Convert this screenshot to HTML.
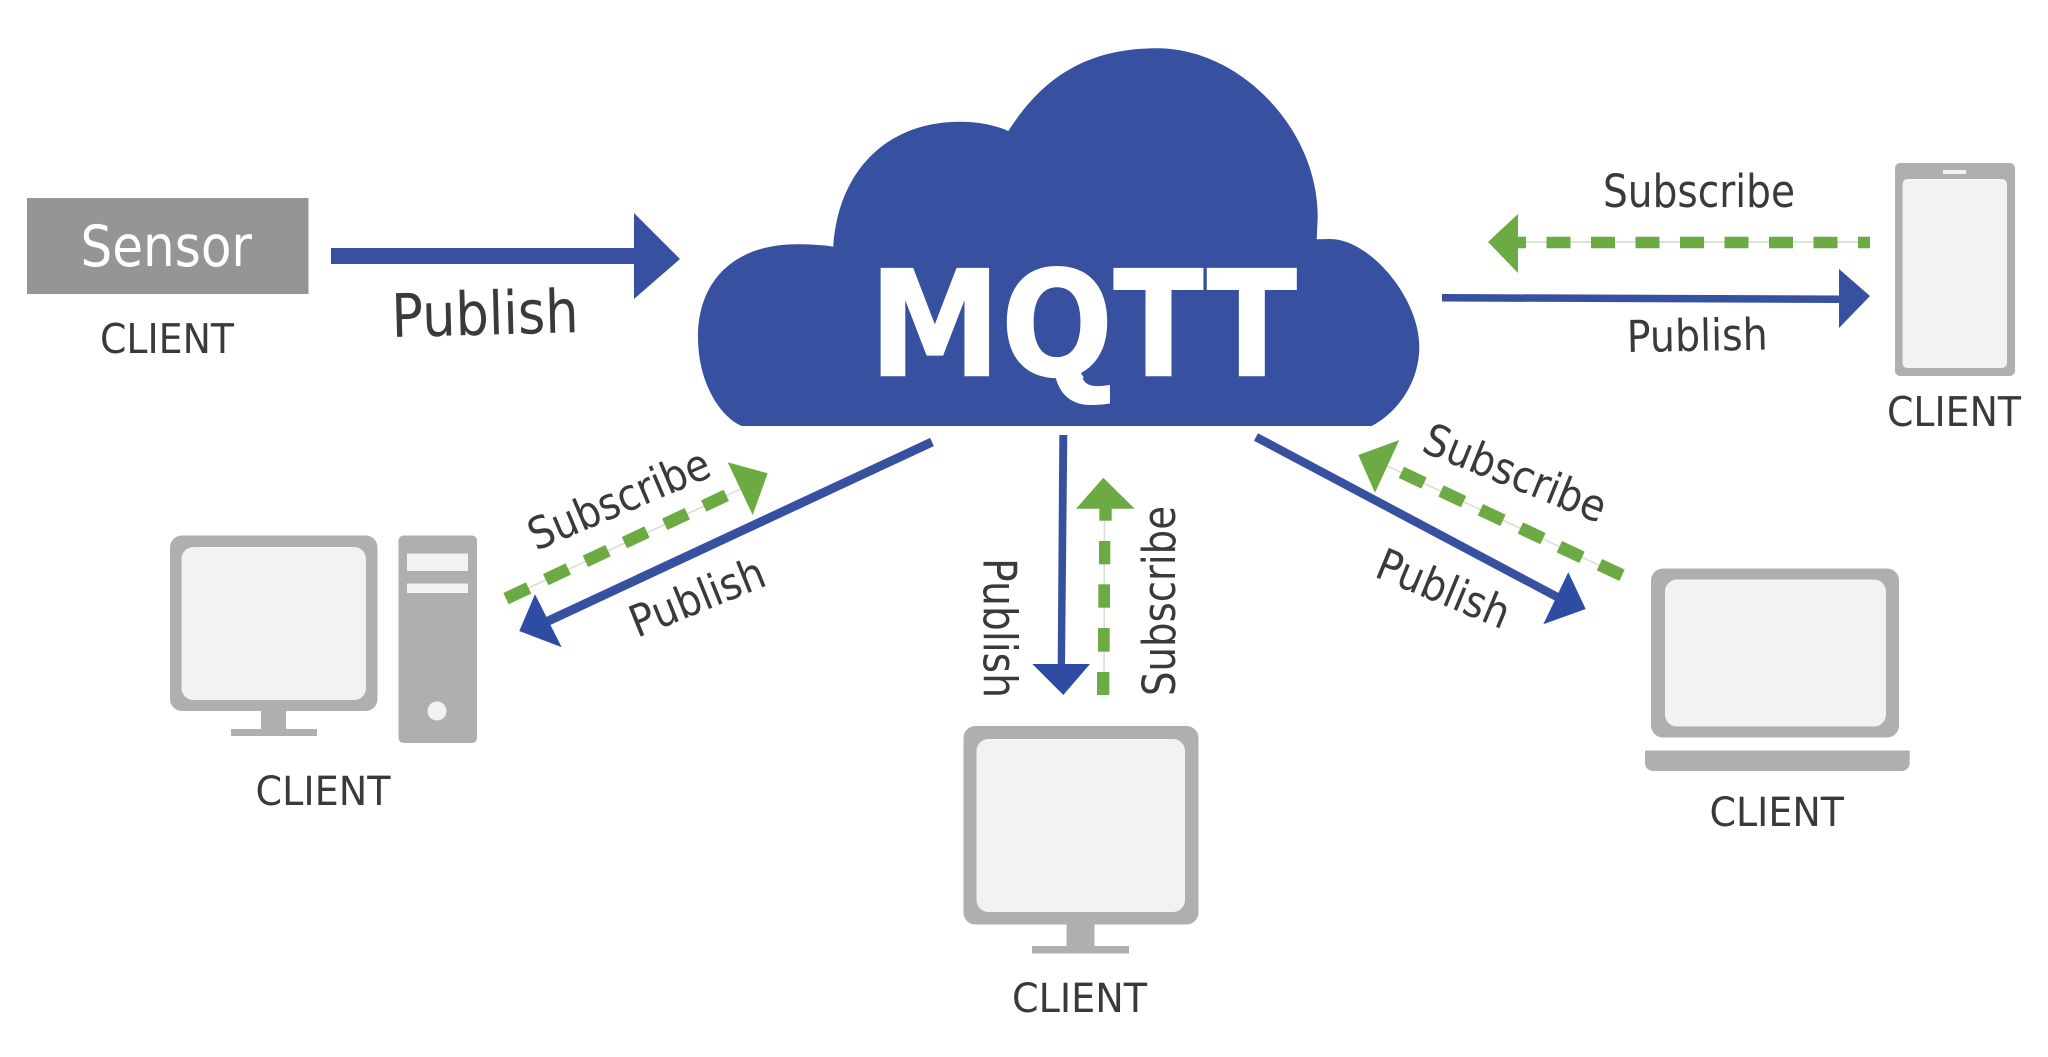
<!DOCTYPE html>
<html><head><meta charset="utf-8"><style>
html,body{margin:0;padding:0;background:#fff;width:2048px;height:1057px;overflow:hidden}
svg{display:block}
text{font-family:"DejaVu Sans",sans-serif;fill:#3a3a3a}
</style></head><body>
<svg width="2048" height="1057" viewBox="0 0 2048 1057" xmlns="http://www.w3.org/2000/svg">
<rect width="2048" height="1057" fill="#fff"/>
<!-- cloud -->
<path fill="#37509f" d="M741.700 426C722 418 698 385 698 337C698 279.500 735.500 244.300 796.700 244.300C810 244.300 822 245 833.300 246.700C838 172 886 121.700 960 121.700C978 121.700 995 125 1008.300 131C1035.800 89 1075 48.300 1156.700 48.300C1240.400 48.300 1317.700 129 1317.700 216.700L1316.700 239.300L1330 239C1370 239 1419.300 298 1419.300 346.700C1419.300 382 1398 412 1371.700 426Z"/>
<text x="869" y="375.700" font-size="147" font-weight="bold" textLength="428" lengthAdjust="spacingAndGlyphs" style="fill:#fff;stroke:#fff;stroke-width:1.200">MQTT</text>
<!-- Q tail -->
<polygon points="1125,360 1105,360 1092,370 1083,378 1040,380 1040,412 1125,412" fill="#37509f"/>
<path d="M1055 374C1058 392 1070 405 1090 405C1098 405 1104 404.500 1110 403.500L1110 385C1095 387 1083 388 1081 372Z" fill="#fff"/>
<!-- sensor -->
<rect x="27" y="198" width="281.500" height="96" fill="#959595"/>
<text x="80.500" y="266" font-size="57" textLength="171.500" lengthAdjust="spacingAndGlyphs" style="fill:#fff">Sensor</text>
<text x="100" y="353" font-size="41" textLength="134" lengthAdjust="spacingAndGlyphs">CLIENT</text>
<!-- sensor arrow -->
<rect x="331" y="248" width="304" height="16" fill="#37509f"/>
<polygon points="634,213 680,259 634,299" fill="#37509f"/>
<text transform="translate(392,337) rotate(-1.500)" font-size="60" textLength="187" lengthAdjust="spacingAndGlyphs">Publish</text>
<!-- top right arrows -->
<text x="1603" y="207" font-size="45" textLength="192" lengthAdjust="spacingAndGlyphs">Subscribe</text>
<line x1="1518" y1="242" x2="1870" y2="242" stroke="#cfdcc4" stroke-width="1.500"/>
<line x1="1870" y1="242.500" x2="1518" y2="242.500" stroke="#6cab44" stroke-width="11.500" stroke-dasharray="12 20.500 24 20.500 24 20.500 24 20.500 24 20.500 24 20.500 24 20.500 24 20.500 24"/>
<polygon points="1488,242 1518,214 1518,273" fill="#6cab44"/>
<polygon points="1442,294 1839,295.500 1839,303 1442,301.500" fill="#37509f"/>
<polygon points="1839,269 1870,296 1839,328" fill="#37509f"/>
<text transform="translate(1627,352) rotate(-1)" font-size="44" textLength="141" lengthAdjust="spacingAndGlyphs">Publish</text>
<!-- phone -->
<rect x="1895" y="163" width="120" height="213" rx="5" fill="#afafaf"/>
<rect x="1902.500" y="179" width="104.500" height="189" rx="5" fill="#f2f2f2"/>
<rect x="1943" y="170" width="23" height="4" fill="#f2f2f2"/>
<text x="1887" y="426" font-size="41" textLength="134" lengthAdjust="spacingAndGlyphs">CLIENT</text>
<!-- left diagonal -->
<line x1="932" y1="442" x2="545" y2="622.500" stroke="#37509f" stroke-width="9"/>
<polygon points="519.300,631 535,594.300 561.700,647.300" fill="#2f4ca5"/>
<line x1="507" y1="598" x2="745" y2="487" stroke="#d8ddd2" stroke-width="1.500"/>
<g stroke="#6cab44" stroke-width="12.500">
<line x1="506" y1="598.600" x2="528.600" y2="588"/>
<line x1="545.700" y1="579.600" x2="568.300" y2="569"/>
<line x1="585.400" y1="561.300" x2="608" y2="550.700"/>
<line x1="624.400" y1="542.600" x2="647" y2="532"/>
<line x1="664.700" y1="524.300" x2="687.300" y2="513.700"/>
<line x1="703.700" y1="506" x2="726.300" y2="495.400"/>
</g>
<polygon points="767.700,473.300 727.700,462.300 752.700,515" fill="#6cab44"/>
<text transform="translate(536,551) rotate(-23)" font-size="44" textLength="193" lengthAdjust="spacingAndGlyphs">Subscribe</text>
<text transform="translate(637,638) rotate(-22)" font-size="44" textLength="142" lengthAdjust="spacingAndGlyphs">Publish</text>
<!-- desktop -->
<rect x="170" y="535.500" width="207.500" height="175.500" rx="12" fill="#afafaf"/>
<rect x="181.500" y="547" width="184.500" height="153" rx="12" fill="#f2f2f2"/>
<rect x="261" y="711" width="25" height="20" fill="#afafaf"/>
<rect x="231" y="729" width="86" height="7" fill="#afafaf"/>
<rect x="398.500" y="535.500" width="78.500" height="207.500" rx="5" fill="#afafaf"/>
<rect x="407" y="553.500" width="61" height="17.500" fill="#f2f2f2"/>
<rect x="407" y="583.500" width="61" height="9.500" fill="#f2f2f2"/>
<circle cx="437" cy="711" r="9.500" fill="#f2f2f2"/>
<text x="255.500" y="805" font-size="40" textLength="135" lengthAdjust="spacingAndGlyphs">CLIENT</text>
<!-- middle arrows -->
<polygon points="1059.300,435 1067.300,435 1065,665 1057.700,665" fill="#37509f"/>
<polygon points="1032.300,664 1090,664 1063.300,695" fill="#2f4ca5"/>
<line x1="1104.500" y1="509" x2="1104" y2="695" stroke="#d8ddd2" stroke-width="1.500"/>
<g fill="#6cab44">
<rect x="1097" y="672" width="12.300" height="23"/>
<rect x="1098" y="628" width="11.700" height="23.700"/>
<rect x="1098.300" y="584.300" width="11.700" height="23.400"/>
<rect x="1099" y="541" width="11.300" height="23.300"/>
<rect x="1099.300" y="508" width="12.400" height="12.700"/>
<polygon points="1103.300,477.700 1076,508.700 1134.700,508.700"/>
</g>
<text transform="translate(983.500,558) rotate(90)" font-size="46" textLength="140" lengthAdjust="spacingAndGlyphs">Publish</text>
<text transform="translate(1175,696) rotate(-90)" font-size="45" textLength="190" lengthAdjust="spacingAndGlyphs">Subscribe</text>
<!-- bottom monitor -->
<rect x="963.500" y="726" width="235" height="198.500" rx="12" fill="#afafaf"/>
<rect x="976.500" y="739" width="208.500" height="173" rx="12" fill="#f2f2f2"/>
<rect x="1066.500" y="924" width="28" height="23" fill="#afafaf"/>
<rect x="1032" y="946" width="97" height="7.500" fill="#afafaf"/>
<text x="1012" y="1012" font-size="40" textLength="135" lengthAdjust="spacingAndGlyphs">CLIENT</text>
<!-- right diagonal -->
<line x1="1256" y1="437" x2="1560" y2="598.500" stroke="#37509f" stroke-width="8.500"/>
<polygon points="1585.700,609 1568.300,572.300 1543.300,624.300" fill="#2f4ca5"/>
<line x1="1385" y1="465" x2="1620" y2="575" stroke="#d8ddd2" stroke-width="1.500"/>
<g stroke="#6cab44" stroke-width="12.500">
<line x1="1401.400" y1="472.400" x2="1424" y2="483"/>
<line x1="1441" y1="491" x2="1463.600" y2="501.600"/>
<line x1="1480.400" y1="509.700" x2="1503" y2="520.300"/>
<line x1="1520.400" y1="528" x2="1543" y2="538.600"/>
<line x1="1559.400" y1="546.700" x2="1582" y2="557.300"/>
<line x1="1599.400" y1="564.700" x2="1622" y2="575.300"/>
</g>
<polygon points="1358.300,455 1399.300,440 1375,492.700" fill="#6cab44"/>
<text transform="translate(1420,451) rotate(22)" font-size="44" textLength="193" lengthAdjust="spacingAndGlyphs">Subscribe</text>
<text transform="translate(1373,576) rotate(22.500)" font-size="44" textLength="140" lengthAdjust="spacingAndGlyphs">Publish</text>
<!-- laptop -->
<rect x="1651" y="568.500" width="248" height="169" rx="12" fill="#afafaf"/>
<rect x="1665" y="579.500" width="221" height="147" rx="12" fill="#f2f2f2"/>
<path d="M1645 750.500H1909.700V763a8 8 0 0 1-8 8H1653a8 8 0 0 1-8-8Z" fill="#afafaf"/>
<text x="1709.500" y="826" font-size="40" textLength="134.500" lengthAdjust="spacingAndGlyphs">CLIENT</text>
</svg>
</body></html>
